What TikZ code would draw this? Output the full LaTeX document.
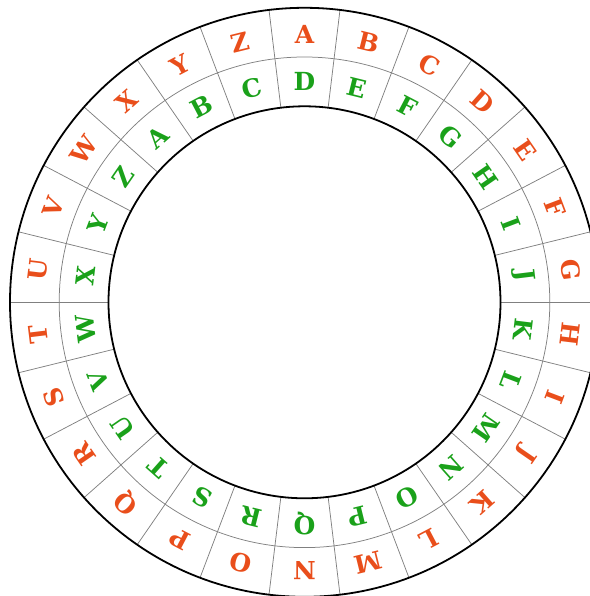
\documentclass[tikz,border=0pt]{standalone}
\usepackage{fontspec}
\newfontfamily\wheelfont{DejaVu Serif}[BoldFont={DejaVu Serif Bold}]
\definecolor{outerc}{HTML}{E94E1B}
\definecolor{innerc}{HTML}{1AA11A}
\begin{document}
\begin{tikzpicture}[x=1bp,y=1bp,
  letter/.style={font=\wheelfont\bfseries\fontsize{25}{25}\selectfont, inner sep=0pt},
  spoke/.style={draw=black!50, line width=0.75bp},
  rim/.style={draw=black, line width=1.8bp}]
\useasboundingbox (-304.5,-293.7) rectangle (285.5,302.3);
\clip (-304.5,-293.7) rectangle (285.5,302.3);
\coordinate (c) at (0,0);
\foreach \k in {0,...,25}{
  \draw[spoke] ({90+180/26-\k*360/26}:196) -- ({90+180/26-\k*360/26}:294.5);
}
\draw[spoke] (c) circle (245.3);
\draw[rim] (c) circle (196);
\draw[rim] (c) circle (294.5);
\foreach \L [count=\i from 0] in {A,B,C,D,E,F,G,H,I,J,K,L,M,N,O,P,Q,R,S,T,U,V,W,X,Y,Z}{
  \node[letter, text=outerc, rotate={-\i*360/26}] (o\i) at ({90-\i*360/26}:268) {\L};
}
\foreach \L [count=\i from 0] in {D,E,F,G,H,I,J,K,L,M,N,O,P,Q,R,S,T,U,V,W,X,Y,Z,A,B,C}{
  \node[letter, text=innerc, rotate={-\i*360/26}] (n\i) at ({90-\i*360/26}:220.7) {\L};
}
\end{tikzpicture}
\end{document}
